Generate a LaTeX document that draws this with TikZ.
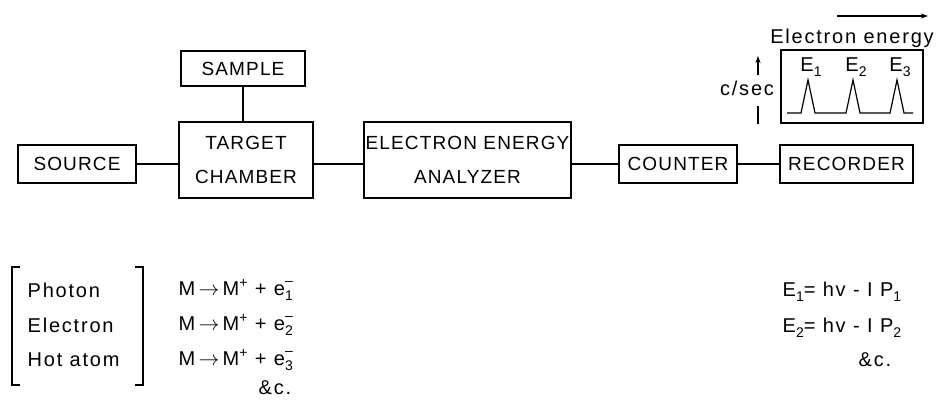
\documentclass[tikz,border=0pt]{standalone}
\usepackage{fontspec}
\setmainfont{Liberation Sans}
\usetikzlibrary{arrows.meta}
\newcommand\capfont{\fontsize{19}{34}\selectfont\addfontfeature{LetterSpace=6}}
\newcommand\lowfont{\fontsize{20}{22}\selectfont\addfontfeature{LetterSpace=9}}
\newcommand\smallfnt{\fontsize{14}{14}\selectfont}
\newcommand\sbs[1]{\raisebox{-0.5ex}{\smallfnt #1}}
\newcommand\sps[1]{\raisebox{0.75ex}{\smallfnt #1}}
\newcommand\esub[1]{e\makebox[0pt][l]{\raisebox{0.9ex}{\smallfnt –}}\raisebox{-0.55ex}{\smallfnt #1}}
\newcommand\rarr{\,$\rightarrow$\,}
\begin{document}
\begin{tikzpicture}[x=1pt,y=-1pt,line width=1.3pt,
  box/.style={draw, rectangle, inner sep=0pt, font=\capfont, align=center},
  lbl/.style={inner sep=0pt, font=\lowfont, anchor=west},
  tip/.style={-{Stealth[length=7pt,width=5pt]}}]
\useasboundingbox (0,0) rectangle (936,400);

% blocks
\node[box, minimum width=124pt, minimum height=35pt] (sample) at (243,68.5) {SAMPLE};
\node[box, minimum width=134pt, minimum height=76pt] (target) at (246,160) {TARGET\\CHAMBER};
\node[box, minimum width=118pt, minimum height=38pt] (source) at (77,164) {SOURCE};
\node[box, minimum width=207pt, minimum height=76pt] (analyzer) at (467.5,160) {ELECTRON ENERGY\\ANALYZER};
\node[box, minimum width=118pt, minimum height=38pt] (counter) at (678,164) {COUNTER};
\node[box, minimum width=133pt, minimum height=38pt] (recorder) at (846.5,164) {RECORDER};
\node[box, minimum width=142pt, minimum height=73pt] (graph) at (852,86.5) {};

% connectors
\draw (sample.south) -- (sample.south |- target.north);
\draw (source.east) -- (source.east -| target.west);
\draw (source.east -| target.east) -- (source.east -| analyzer.west);
\draw (counter.west -| analyzer.east) -- (counter.west);
\draw (counter.east) -- (recorder.west);

% spectrum
\draw[line width=1.2pt] (787,113) -- (801,113) -- (808,80) -- (815,113) -- (846,113) -- (853,80) -- (860,113)
  -- (890,113) -- (897,80) -- (904,113) -- (913,113);
\node[inner sep=0pt, font=\lowfont] (e1) at (811,67) {E\sbs{1}};
\node[inner sep=0pt, font=\lowfont] (e2) at (856,67) {E\sbs{2}};
\node[inner sep=0pt, font=\lowfont] (e3) at (900,67) {E\sbs{3}};

\node[inner sep=0pt, font=\lowfont] (csec) at (747,88) {c/sec};
\coordinate (cup) at (758,75);
\coordinate (cuptop) at (758,56);
\coordinate (cdn) at (758,106);
\coordinate (cdnbot) at (758,124);
\draw[tip, line width=1.1pt] (cup) -- (cuptop);
\draw[line width=1.1pt] (cdn) -- (cdnbot);

\node[inner sep=0pt, font=\lowfont] (ee) at (852,38) {Electron energy};
\coordinate (eea) at (837,16);
\coordinate (eeb) at (928,16);
\draw[tip, line width=1.1pt] (eea) -- (eeb);

% bracket
\draw[line width=1.2pt] (20,267) -- (12,267) -- (12,385) -- (20,385);
\draw[line width=1.2pt] (135,267) -- (143,267) -- (143,385) -- (135,385);
\node[lbl] (ph) at (27,290) {Photon};
\node[lbl] (el) at (27,325) {Electron};
\node[lbl] (ha) at (27,360) {Hot atom};

\node[lbl] (r1) at (178,290) {M\rarr M\sps{+} + \esub{1}};
\node[lbl] (r2) at (178,325) {M\rarr M\sps{+} + \esub{2}};
\node[lbl] (r3) at (178,360) {M\rarr M\sps{+} + \esub{3}};
\node[lbl] (r4) at (258,388) {\&c.};

\node[lbl] (q1) at (782,292) {E\sbs{1}= hv - I P\sbs{1}};
\node[lbl] (q2) at (782,328) {E\sbs{2}= hv - I P\sbs{2}};
\node[lbl] (q3) at (858,360) {\&c.};
\end{tikzpicture}
\end{document}
